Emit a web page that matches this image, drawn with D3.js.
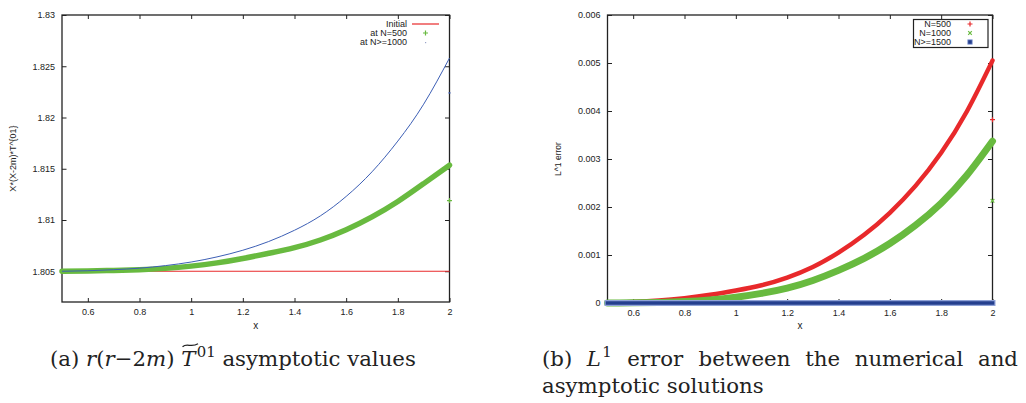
<!DOCTYPE html>
<html>
<head>
<meta charset="utf-8">
<script src="https://cdn.jsdelivr.net/npm/d3@7"></script>
<style>
  html, body { margin: 0; padding: 0; background: #fff; }
  svg { display: block; }
  .tick text { font-family: "Liberation Sans", Arial, sans-serif; font-size: 9px; fill: #222; }
  .lab { font-family: "Liberation Sans", Arial, sans-serif; fill: #222; }
  .cap { font-family: "DejaVu Serif", "Liberation Serif", serif; fill: #222; }
</style>
</head>
<body>
<svg id="fig" width="1026" height="403"></svg>
<script>
// ---- data -------------------------------------------------------------
const xGrid = [0.5, 0.6, 0.7, 0.8, 0.9, 1.0, 1.1, 1.2, 1.3, 1.4, 1.5, 1.6, 1.7, 1.8, 1.9, 2.0];

// (a) r(r-2m)T01 values
const initialVals = [1.805, 1.805, 1.805, 1.805, 1.805, 1.805, 1.805, 1.805,
                     1.805, 1.805, 1.805, 1.805, 1.805, 1.805, 1.805, 1.805];
const atN500 = [1.80500, 1.80503, 1.80508, 1.80515, 1.80528, 1.80550, 1.80582, 1.80625,
                1.80675, 1.80730, 1.80805, 1.80905, 1.81030, 1.81180, 1.81355, 1.81535];
const atN1000 = [1.80500, 1.80505, 1.80515, 1.80530, 1.80555, 1.80590, 1.80640, 1.80705,
                 1.80790, 1.80900, 1.81040, 1.81230, 1.81470, 1.81770, 1.82130, 1.82580];
const endPointsA = [{x: 2.0, y: 1.8119, s: "N500"}, {x: 2.0, y: 1.8224, s: "N1000"}];

// (b) L1 error
const errN500  = [0, 0.00002, 0.00005, 0.00010, 0.00017, 0.00026, 0.00037, 0.00053,
                  0.00075, 0.00105, 0.00142, 0.00188, 0.00244, 0.00313, 0.00399, 0.00505];
const errN1000 = [0, 0.000003, 0.000012, 0.00003, 0.000065, 0.00012, 0.00020, 0.00031,
                  0.00047, 0.00068, 0.00093, 0.00124, 0.00162, 0.00208, 0.00266, 0.00337];
const errN1500 = [0, 0, 0, 0, 0, 0, 0, 0, 0, 0, 0, 0, 0, 0, 0, 0];
const endPointsB = [{x: 2.0, y: 0.00382, s: "N500"}, {x: 2.0, y: 0.00213, s: "N1000"}];

// ticks
const xTickVals   = [0.6, 0.8, 1.0, 1.2, 1.4, 1.6, 1.8, 2.0];
const xTickLabels = ["0.6", "0.8", "1", "1.2", "1.4", "1.6", "1.8", "2"];
const yTickValsA   = [1.805, 1.81, 1.815, 1.82, 1.825, 1.83];
const yTickLabelsA = ["1.805", "1.81", "1.815", "1.82", "1.825", "1.83"];
const yTickValsB   = [0, 0.001, 0.002, 0.003, 0.004, 0.005, 0.006];
const yTickLabelsB = ["0", "0.001", "0.002", "0.003", "0.004", "0.005", "0.006"];

// ---- styles -------------------------------------------------------------
const RED = "#e8292b", GREEN = "#68ba3f", BLUE = "#3d5fb5", DARKBLUE = "#243f8e";

const svg = d3.select("#fig");

function frame(box, x, y, yVals, yLabels) {
  const g = svg.append("g");
  const xa = g.append("g").attr("transform", `translate(0,${box.y1})`)
    .call(d3.axisBottom(x).tickValues(xTickVals).tickFormat((d, i) => xTickLabels[i])
      .tickSize(-4).tickPadding(7));
  const xt = g.append("g").attr("transform", `translate(0,${box.y0})`)
    .call(d3.axisTop(x).tickValues(xTickVals).tickFormat("").tickSize(-4));
  const ya = g.append("g").attr("transform", `translate(${box.x0},0)`)
    .call(d3.axisLeft(y).tickValues(yVals).tickFormat((d, i) => yLabels[i])
      .tickSize(-4.5).tickPadding(7));
  const yr = g.append("g").attr("transform", `translate(${box.x1},0)`)
    .call(d3.axisRight(y).tickValues(yVals).tickFormat("").tickSize(-4.5));
  [xa, xt, ya, yr].forEach(a => {
    a.select(".domain").remove();
    a.selectAll(".tick line").attr("stroke", "#222").attr("stroke-width", 1);
  });
  g.append("rect")
    .attr("x", box.x0).attr("y", box.y0)
    .attr("width", box.x1 - box.x0).attr("height", box.y1 - box.y0)
    .attr("fill", "none").attr("stroke", "#222").attr("stroke-width", 1.3);
  return g;
}

function plus(g, cx, cy, r, color) {
  g.append("path").attr("d", `M${cx - r},${cy}H${cx + r}M${cx},${cy - r}V${cy + r}`)
    .attr("stroke", color).attr("stroke-width", 1.2).attr("fill", "none");
}
function cross(g, cx, cy, r, color) {
  g.append("path").attr("d", `M${cx - r},${cy - r}L${cx + r},${cy + r}M${cx - r},${cy + r}L${cx + r},${cy - r}`)
    .attr("stroke", color).attr("stroke-width", 1.2).attr("fill", "none");
}

// ---- panel (a) ----------------------------------------------------------
const boxA = {x0: 62, x1: 449.5, y0: 15, y1: 302};
const xA = d3.scaleLinear().domain([0.5, 2]).range([boxA.x0, boxA.x1]);
const yA = d3.scaleLinear().domain([1.802, 1.83]).range([boxA.y1, boxA.y0]);
const gA = frame(boxA, xA, yA, yTickValsA, yTickLabelsA);
const lineA = d3.line().x(d => xA(d[0])).y(d => yA(d[1])).curve(d3.curveNatural);

gA.append("path").datum(xGrid.map((x, i) => [x, initialVals[i]]))
  .attr("d", lineA).attr("fill", "none").attr("stroke", RED).attr("stroke-width", 1.2);
gA.append("path").datum(xGrid.map((x, i) => [x, atN500[i]]))
  .attr("d", lineA).attr("fill", "none").attr("stroke", GREEN).attr("stroke-width", 5.5)
  .attr("stroke-linecap", "round");
gA.append("path").datum(xGrid.map((x, i) => [x, atN1000[i]]))
  .attr("d", lineA).attr("fill", "none").attr("stroke", BLUE).attr("stroke-width", 1);
endPointsA.forEach(p => {
  if (p.s === "N500") plus(gA, xA(p.x), yA(p.y), 2.5, GREEN);
  else gA.append("rect").attr("x", xA(p.x) - 1).attr("y", yA(p.y) - 0.7)
    .attr("width", 2).attr("height", 1.4).attr("fill", BLUE);
});

// legend (a)
const legA = svg.append("g").attr("class", "lab").style("font-size", "9px");
[["Initial", 24], ["at N=500", 33], ["at N>=1000", 42]].forEach(([t, yy]) => {
  legA.append("text").attr("x", 407).attr("y", yy).attr("dy", "0.35em")
    .attr("text-anchor", "end").text(t);
});
legA.append("line").attr("x1", 412).attr("x2", 439).attr("y1", 24).attr("y2", 24)
  .attr("stroke", RED).attr("stroke-width", 1.2);
plus(legA, 425.5, 33, 2.5, GREEN);
legA.append("rect").attr("x", 425).attr("y", 42).attr("width", 1.2).attr("height", 1.2).attr("fill", "#9aa4c8");

// axis titles (a)
svg.append("text").attr("class", "lab").style("font-size", "10px")
  .attr("x", (boxA.x0 + boxA.x1) / 2).attr("y", 329).attr("text-anchor", "middle").text("x");
svg.append("text").attr("class", "lab").style("font-size", "9px")
  .attr("transform", `translate(16,${(boxA.y0 + boxA.y1) / 2}) rotate(-90)`)
  .attr("text-anchor", "middle").text("X*(X-2m)*T^{01}");

// ---- panel (b) ----------------------------------------------------------
const boxB = {x0: 607.5, x1: 992.5, y0: 15, y1: 303};
const xB = d3.scaleLinear().domain([0.5, 2]).range([boxB.x0, boxB.x1]);
const yB = d3.scaleLinear().domain([0, 0.006]).range([boxB.y1, boxB.y0]);
const gB = frame(boxB, xB, yB, yTickValsB, yTickLabelsB);
const lineB = d3.line().x(d => xB(d[0])).y(d => yB(d[1])).curve(d3.curveNatural);

gB.append("path").datum(xGrid.map((x, i) => [x, errN500[i]]))
  .attr("d", lineB).attr("fill", "none").attr("stroke", RED).attr("stroke-width", 4.5)
  .attr("stroke-linecap", "round");
gB.append("path").datum(xGrid.map((x, i) => [x, errN1000[i]]))
  .attr("d", lineB).attr("fill", "none").attr("stroke", GREEN).attr("stroke-width", 7)
  .attr("stroke-linecap", "round");
gB.append("path").datum(xGrid.map((x, i) => [x, errN1500[i]]))
  .attr("d", lineB).attr("fill", "none").attr("stroke", "#8fa2d8").attr("stroke-width", 6)
  .attr("stroke-linecap", "square");
gB.append("path").datum(xGrid.map((x, i) => [x, errN1500[i]]))
  .attr("d", lineB).attr("fill", "none").attr("stroke", DARKBLUE).attr("stroke-width", 3.6)
  .attr("stroke-linecap", "square");
endPointsB.forEach(p => {
  if (p.s === "N500") plus(gB, xB(p.x), yB(p.y), 2.5, RED);
  else cross(gB, xB(p.x), yB(p.y), 1.8, GREEN);
});

// legend (b)
const legB = svg.append("g").attr("class", "lab").style("font-size", "9px");
legB.append("rect").attr("x", 913.5).attr("y", 19.5).attr("width", 74.5).attr("height", 28)
  .attr("fill", "#fff").attr("stroke", "#222").attr("stroke-width", 1.2);
[["N=500", 24], ["N=1000", 33], ["N>=1500", 42]].forEach(([t, yy]) => {
  legB.append("text").attr("x", 951).attr("y", yy).attr("dy", "0.35em")
    .attr("text-anchor", "end").text(t);
});
plus(legB, 970, 24, 2.5, RED);
cross(legB, 970, 33, 1.8, GREEN);
legB.append("rect").attr("x", 967.8).attr("y", 39.8).attr("width", 4.4).attr("height", 4.4)
  .attr("fill", DARKBLUE).attr("stroke", "#8fa2d8").attr("stroke-width", 0.8);

// axis titles (b)
svg.append("text").attr("class", "lab").style("font-size", "10px")
  .attr("x", (boxB.x0 + boxB.x1) / 2).attr("y", 329).attr("text-anchor", "middle").text("x");
svg.append("text").attr("class", "lab").style("font-size", "8.5px")
  .attr("transform", `translate(561,${(boxB.y0 + boxB.y1) / 2}) rotate(-90)`)
  .attr("text-anchor", "middle").text("L^1 error");

// ---- captions -----------------------------------------------------------
const CAP_Y1 = 366, CAP_Y2 = 393;

function richText(x, y, parts, size) {
  const t = svg.append("text").attr("class", "cap").attr("x", x).attr("y", y)
    .style("font-size", size + "px");
  parts.forEach(p => {
    const s = t.append("tspan").text(p.t);
    if (p.i) s.style("font-style", "italic");
    if (p.sup) s.attr("dy", -size * 0.42).attr("dx", size * 0.06).style("font-size", (size * 0.7) + "px");
    if (p.down) s.attr("dy", size * 0.42);
  });
  return t;
}

const capA = [
  {t: "(a) "}, {t: "r", i: 1}, {t: "("}, {t: "r", i: 1}, {t: "\u22122"}, {t: "m", i: 1},
  {t: ") "}, {t: "T", i: 1}, {t: "01", sup: 1}, {t: " asymptotic values", down: 1}
];
const capB1Words = [
  [{t: "(b)"}], [{t: "L", i: 1}, {t: "1", sup: 1}], [{t: "error"}], [{t: "between"}],
  [{t: "the"}], [{t: "numerical"}], [{t: "and"}]
];
const capB2 = [{t: "asymptotic solutions"}];

let size = 22;
let ta = richText(50, CAP_Y1, capA, size);
const wA = ta.node().getComputedTextLength();
size = Math.min(23, size * 365 / wA);
ta.remove();
ta = richText(50, CAP_Y1, capA, size);

// wide tilde over T
const tIndex = "(a) r(r\u22122m) ".length;
const tStart = ta.node().getStartPositionOfChar(tIndex);
const tEnd = ta.node().getEndPositionOfChar(tIndex);
const tx0 = tStart.x + size * 0.06, tx1 = tEnd.x + size * 0.12, ty = CAP_Y1 - size * 0.98;
const tw = tx1 - tx0;
svg.append("path")
  .attr("d", `M${tx0},${ty + 1.6} C${tx0 + tw * 0.3},${ty - 2.6} ${tx0 + tw * 0.55},${ty + 3} ${tx1},${ty - 1.4}`)
  .attr("fill", "none").attr("stroke", "#222").attr("stroke-width", 1.3);

// first line of (b): words spread evenly between the two margins
const wordEls = capB1Words.map(w => richText(0, CAP_Y1, w, size));
const widths = wordEls.map(el => el.node().getBBox().width);
const gap = (1018 - 542 - d3.sum(widths)) / (wordEls.length - 1);
let cx = 542;
wordEls.forEach((el, i) => {
  el.attr("x", cx);
  cx += widths[i] + gap;
});
richText(542, CAP_Y2, capB2, size);
</script>
</body>
</html>
